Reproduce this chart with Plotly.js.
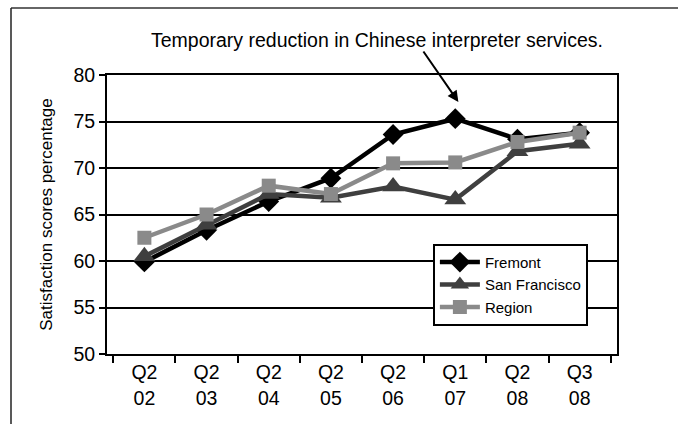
<!DOCTYPE html>
<html>
<head>
<meta charset="utf-8">
<script src="https://cdn.plot.ly/plotly-3.0.1.min.js"></script>
<style>
html,body{margin:0;padding:0;background:#fff;}
#chart{width:678px;height:424px;}
</style>
</head>
<body>
<div id="chart"></div>
<script>
var categories = ["Q2<br>02","Q2<br>03","Q2<br>04","Q2<br>05","Q2<br>06","Q1<br>07","Q2<br>08","Q3<br>08"];
var fremont = [59.9, 63.3, 66.4, 68.9, 73.6, 75.3, 73.1, 73.8];
var sanFrancisco = [60.5, 63.9, 67.2, 66.8, 68.0, 66.6, 71.8, 72.6];
var region = [62.5, 65.0, 68.1, 67.2, 70.5, 70.6, 72.8, 73.8];
var seriesNames = ["Fremont", "San Francisco", "Region"];
var yTicks = [50, 55, 60, 65, 70, 75, 80];
var annotationText = "Temporary reduction in Chinese interpreter services.";

var font = "Liberation Sans, Arial, sans-serif";

var traces = [
  {x: categories, y: fremont, name: seriesNames[0], type: "scatter", mode: "lines+markers",
   line: {color: "#000000", width: 4.5}, marker: {symbol: "diamond", size: 16, color: "#000000"}},
  {x: categories, y: sanFrancisco, name: seriesNames[1], type: "scatter", mode: "lines+markers",
   line: {color: "#3f3f3f", width: 4.5}, marker: {symbol: "triangle-up", size: 19, color: "#3f3f3f"}},
  {x: categories, y: region, name: seriesNames[2], type: "scatter", mode: "lines+markers",
   line: {color: "#8a8a8a", width: 4.5}, marker: {symbol: "square", size: 14, color: "#8a8a8a"}}
];

var layout = {
  width: 678, height: 424,
  margin: {l: 107, r: 61, t: 75, b: 70},
  paper_bgcolor: "#ffffff", plot_bgcolor: "#ffffff",
  font: {family: font, size: 19, color: "#000"},
  showlegend: true,
  legend: {x: 0.639, y: 0.395, xanchor: "left", yanchor: "top",
    bgcolor: "#ffffff", bordercolor: "#000000", borderwidth: 2,
    font: {family: font, size: 15, color: "#000"}, tracegroupgap: 0, itemwidth: 40},
  xaxis: {type: "category", tickson: "boundaries", ticks: "outside", ticklen: 7, tickwidth: 2, tickcolor: "#000",
    showline: true, linecolor: "#000", linewidth: 2, mirror: true, showgrid: false,
    tickfont: {family: font, size: 19.5, color: "#000"}, fixedrange: true, zeroline: false},
  yaxis: {range: [50, 80], tickvals: yTicks, ticks: "outside", ticklen: 6, tickwidth: 2, tickcolor: "#000",
    showline: true, linecolor: "#000", linewidth: 2, mirror: true,
    showgrid: true, gridcolor: "#000", gridwidth: 2, zeroline: false,
    tickfont: {family: font, size: 19.5, color: "#000"},
    title: {text: "Satisfaction scores percentage", font: {family: font, size: 17, color: "#000"}, standoff: 16}},
  annotations: [
    {xref: "paper", yref: "paper", x: (377 - 107) / 510, y: (354 - 40) / 279, xanchor: "center", yanchor: "middle",
     text: annotationText, showarrow: false, font: {family: font, size: 19.5, color: "#000"}},
    {xref: "x", yref: "y", x: 5.05, y: 77.1, text: "", showarrow: true, arrowhead: 2, arrowsize: 1.1,
     arrowwidth: 2, arrowcolor: "#000", ax: -36, ay: -52}
  ],
  shapes: [
    {type: "line", xref: "paper", yref: "paper", x0: (11 - 107) / 510, x1: (678 - 107) / 510,
     y0: (354 - 8) / 279, y1: (354 - 8) / 279, line: {color: "#666", width: 2}},
    {type: "line", xref: "paper", yref: "paper", x0: (11 - 107) / 510, x1: (11 - 107) / 510,
     y0: (354 - 8) / 279, y1: (354 - 424) / 279, line: {color: "#222", width: 1.5}}
  ]
};

Plotly.newPlot("chart", traces, layout, {displayModeBar: false, staticPlot: true});
</script>
</body>
</html>
